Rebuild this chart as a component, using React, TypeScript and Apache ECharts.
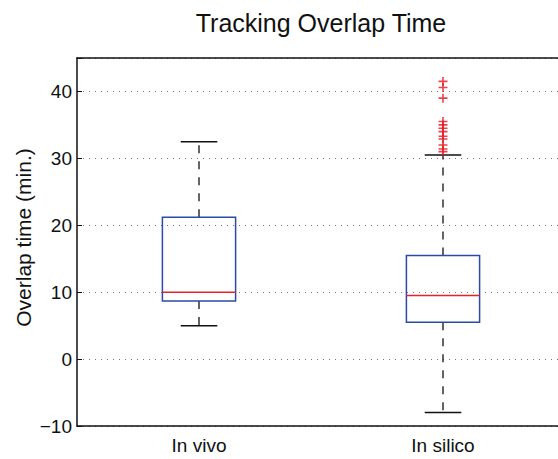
import React, { useEffect, useRef } from 'react';
import * as echarts from 'echarts';

// Groups shown along the x axis
const categories = ['In vivo', 'In silico'];
// Box statistics per group: [lower whisker, Q1, median, Q3, upper whisker]
const inVivoStats = [5, 8.7, 10, 21.2, 32.5];
const inSilicoStats = [-8, 5.5, 9.5, 15.5, 30.5];
// Points beyond the upper whisker of the "In silico" group
const inSilicoOutliers = [31.0, 31.4, 32.0, 32.9, 33.3, 34.0, 34.5, 35.0, 35.5, 39.0, 40.6, 41.5];
// Labelled y ticks
const yTicks = [-10, 0, 10, 20, 30, 40];

const FONT = "'Liberation Sans', Arial, Helvetica, sans-serif";
const TEXT = '#111';
const BOX_BLUE = '#2b4ba6';
const MEDIAN_RED = '#e8232d';
const OUTLIER_RED = '#e5141f';

const PLUS = 'path://M4.1,0h1.8v4.1h4.1v1.8h-4.1v4.1h-1.8v-4.1h-4.1v-1.8h4.1z';

function renderBox(params: any, api: any) {
  const idx = api.value(0);
  const lo = api.value(1);
  const q1 = api.value(2);
  const med = api.value(3);
  const q3 = api.value(4);
  const hi = api.value(5);
  const band = api.size([1, 0])[0];
  const half = band * 0.15;
  const cap = band * 0.075;
  const [cx, yLo] = api.coord([idx, lo]);
  const yQ1 = api.coord([idx, q1])[1];
  const yMed = api.coord([idx, med])[1];
  const yQ3 = api.coord([idx, q3])[1];
  const yHi = api.coord([idx, hi])[1];
  return {
    type: 'group',
    children: [
      {
        type: 'line',
        shape: { x1: cx, y1: yQ3, x2: cx, y2: yHi },
        style: { stroke: TEXT, lineWidth: 1.3, lineDash: [8, 8] },
      },
      {
        type: 'line',
        shape: { x1: cx, y1: yQ1, x2: cx, y2: yLo },
        style: { stroke: TEXT, lineWidth: 1.3, lineDash: [8, 8] },
      },
      {
        type: 'line',
        shape: { x1: cx - cap, y1: yHi, x2: cx + cap, y2: yHi },
        style: { stroke: TEXT, lineWidth: 1.5 },
      },
      {
        type: 'line',
        shape: { x1: cx - cap, y1: yLo, x2: cx + cap, y2: yLo },
        style: { stroke: TEXT, lineWidth: 1.5 },
      },
      {
        type: 'rect',
        shape: { x: cx - half, y: yQ3, width: half * 2, height: yQ1 - yQ3 },
        style: { fill: 'none', stroke: BOX_BLUE, lineWidth: 1.5 },
      },
      {
        type: 'line',
        shape: { x1: cx - half, y1: yMed, x2: cx + half, y2: yMed },
        style: { stroke: MEDIAN_RED, lineWidth: 1.5 },
      },
    ],
  };
}

export default function App() {
  const ref = useRef<HTMLDivElement>(null);

  useEffect(() => {
    if (!ref.current) return;
    const chart = echarts.init(ref.current, undefined, { renderer: 'svg' });
    chart.setOption({
      animation: false,
      backgroundColor: 'transparent',
      graphic: [
        {
          type: 'text',
          x: 321,
          y: 22.5,
          style: {
            text: 'Tracking Overlap Time',
            font: `25px ${FONT}`,
            fill: TEXT,
            align: 'center',
            verticalAlign: 'middle',
          },
        },
        {
          type: 'text',
          x: 23,
          y: 237.5,
          rotation: Math.PI / 2,
          style: {
            text: 'Overlap time (min.)',
            font: `21px ${FONT}`,
            fill: TEXT,
            align: 'center',
            verticalAlign: 'middle',
          },
        },
      ],
      grid: {
        left: 77,
        top: 58,
        right: 35,
        height: 368,
        containLabel: false,
        outerBoundsMode: 'none',
      },
      xAxis: [
        {
          type: 'category',
          data: categories,
          axisLine: { onZero: false, lineStyle: { color: TEXT, width: 1.5 } },
          axisTick: { show: false },
          axisLabel: { fontFamily: FONT, fontSize: 19, color: TEXT, margin: 10 },
        },
        {
          // top frame edge of the plot box
          type: 'category',
          position: 'top',
          data: categories,
          axisLine: { onZero: false, lineStyle: { color: TEXT, width: 1.5 } },
          axisTick: { show: false },
          axisLabel: { show: false },
        },
      ],
      yAxis: {
        type: 'value',
        min: -10,
        max: 45,
        interval: 10,
        axisLine: { show: true, lineStyle: { color: TEXT, width: 1.5 } },
        axisTick: { show: true, inside: true, length: 5, lineStyle: { color: TEXT, width: 1 } },
        axisLabel: {
          fontFamily: FONT,
          fontSize: 19,
          color: TEXT,
          margin: 5,
          formatter: (v: number) =>
            yTicks.includes(v) ? (v < 0 ? '\u2212' + Math.abs(v) : String(v)) : '',
        },
        splitLine: { show: true, lineStyle: { color: '#777', width: 1, type: [1, 5] } },
      },
      series: [
        {
          type: 'custom',
          renderItem: renderBox,
          encode: { x: 0, y: [1, 2, 3, 4, 5] },
          data: [
            [0, ...inVivoStats],
            [1, ...inSilicoStats],
          ],
        },
        {
          type: 'scatter',
          symbol: PLUS,
          symbolSize: 9,
          itemStyle: { color: OUTLIER_RED },
          data: inSilicoOutliers.map((v) => [categories[1], v]),
        },
      ],
    });
    return () => chart.dispose();
  }, []);

  // The plot box runs past the right edge of the visible area, so the chart
  // canvas is wider than the clipping frame around it.
  return (
    <div
      style={{
        position: 'fixed',
        left: 0,
        top: 0,
        width: 558,
        height: 459,
        overflow: 'hidden',
        background: '#fff',
      }}
    >
      <div ref={ref} style={{ width: 600, height: 459 }} />
    </div>
  );
}
